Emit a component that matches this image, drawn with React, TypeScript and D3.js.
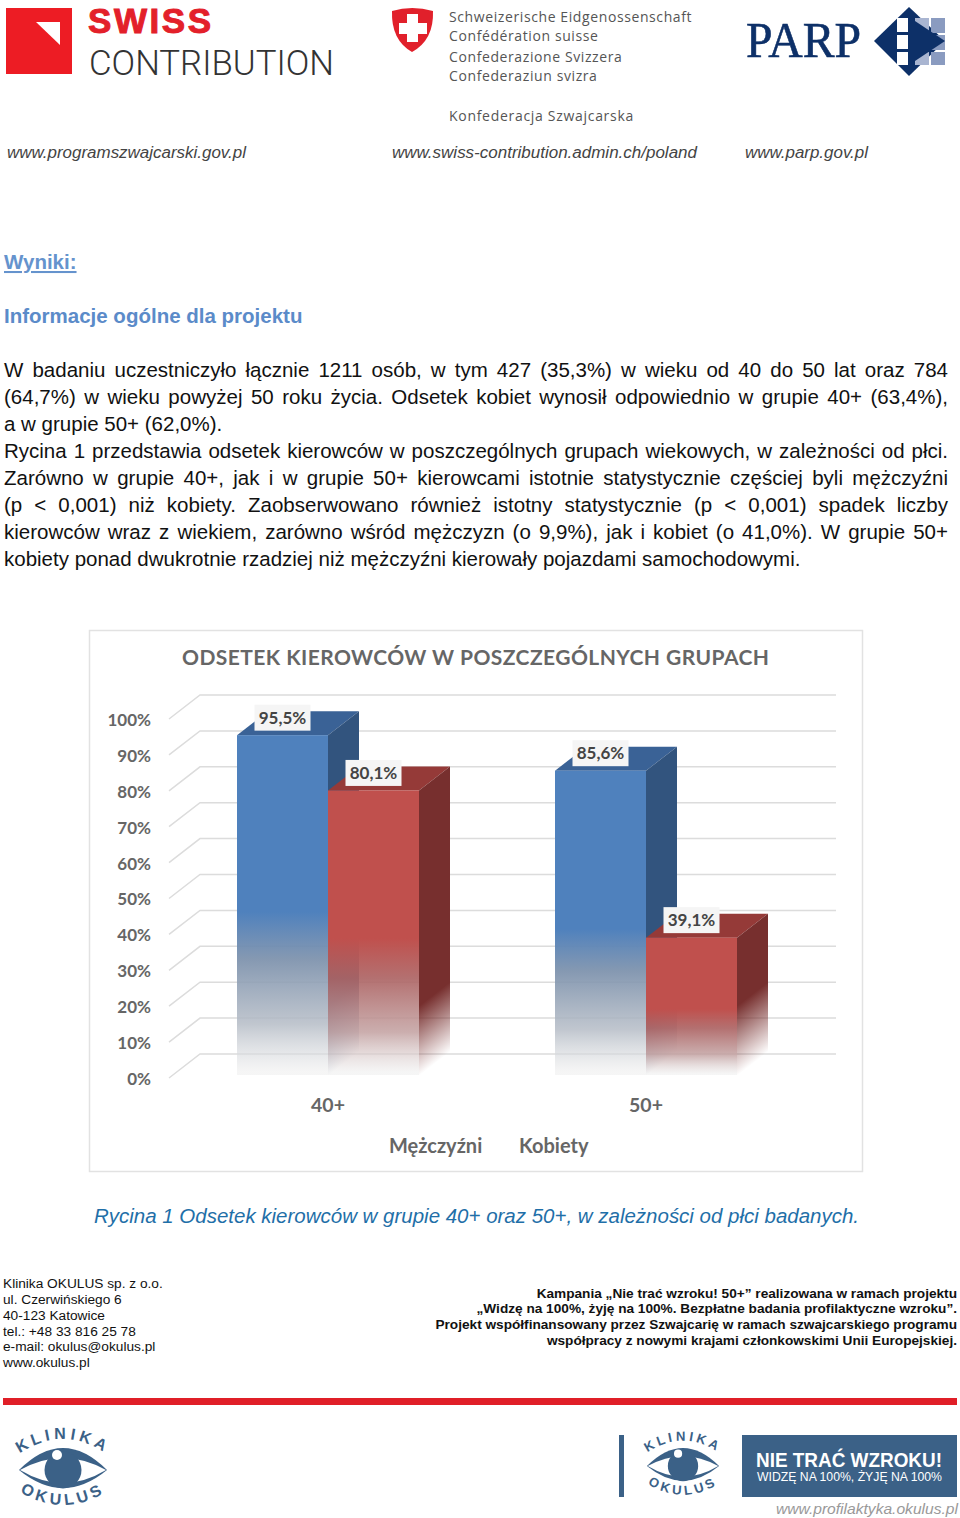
import { useEffect, useRef } from 'react';
import * as d3 from 'd3';

const categories = ['40+', '50+'];
const seriesNames = ['Mężczyźni', 'Kobiety'];
const men = [95.5, 85.6];
const women = [80.1, 39.1];
const yTicks = [0, 10, 20, 30, 40, 50, 60, 70, 80, 90, 100];

const bodyLines = [
  { text: 'W badaniu uczestniczyło łącznie 1211 osób, w tym 427 (35,3%) w wieku od 40 do 50 lat oraz 784', justify: true },
  { text: '(64,7%) w wieku powyżej 50 roku życia. Odsetek kobiet wynosił odpowiednio w grupie 40+ (63,4%),', justify: true },
  { text: 'a w grupie 50+ (62,0%).', justify: false },
  { text: 'Rycina 1 przedstawia odsetek kierowców w poszczególnych grupach wiekowych, w zależności od płci.', justify: true },
  { text: 'Zarówno w grupie 40+, jak i w grupie 50+ kierowcami istotnie statystycznie częściej byli mężczyźni', justify: true },
  { text: '(p < 0,001) niż kobiety. Zaobserwowano również istotny statystycznie (p < 0,001) spadek liczby', justify: true },
  { text: 'kierowców wraz z wiekiem, zarówno wśród mężczyzn (o 9,9%), jak i kobiet (o 41,0%). W grupie 50+', justify: true },
  { text: 'kobiety ponad dwukrotnie rzadziej niż mężczyźni kierowały pojazdami samochodowymi.', justify: false },
];
const addressLines = ['Klinika OKULUS sp. z o.o.', 'ul. Czerwińskiego 6', '40-123 Katowice', 'tel.: +48 33 816 25 78', 'e-mail: okulus@okulus.pl', 'www.okulus.pl'];
const campaignLines = [
  'Kampania „Nie trać wzroku! 50+” realizowana w ramach projektu',
  '„Widzę na 100%, żyję na 100%. Bezpłatne badania profilaktyczne wzroku”.',
  'Projekt współfinansowany przez Szwajcarię w ramach szwajcarskiego programu',
  'współpracy z nowymi krajami członkowskimi Unii Europejskiej.',
];
const swissLines = ['Schweizerische Eidgenossenschaft', 'Confédération suisse', 'Confederazione Svizzera', 'Confederaziun svizra'];

const SANS = '"Liberation Sans", Arial, sans-serif';
const CHART_FONT = 'Lato, "Open Sans", sans-serif';
const NAVY = '#3b6187';

type Sel = d3.Selection<SVGGElement, unknown, null, undefined>;

function label(g: Sel, x: number, y: number, str: string, size: number, fill: string, opts: Record<string, string | number> = {}) {
  const t = g.append('text').attr('x', x).attr('y', y).attr('font-family', SANS).attr('font-size', size).attr('fill', fill).text(str);
  Object.entries(opts).forEach(([k, v]) => t.attr(k, v));
  return t;
}

function drawEye(g: Sel, defs: d3.Selection<SVGDefsElement, unknown, null, undefined>, id: string, cx: number, cy: number, k: number) {
  const e = g.append('g').attr('transform', `translate(${cx},${cy}) scale(${k})`);
  e.append('path').attr('d', 'M-44,0 Q0,-44 44,0 Q0,36 -44,0Z').attr('fill', NAVY);
  e.append('path').attr('d', 'M-43,0 Q0,-24 43,0 Q0,26 -43,0Z').attr('fill', '#fff');
  e.append('circle').attr('r', 18.5).attr('fill', NAVY);
  e.append('circle').attr('cx', -6).attr('cy', -15).attr('r', 5).attr('fill', '#fff');
  defs.append('path').attr('id', `${id}-top`).attr('d', 'M-52,-10 Q0,-52 52,-10');
  defs.append('path').attr('id', `${id}-bot`).attr('d', 'M-52,16 Q0,54 52,16');
  const arcText = (href: string, str: string) =>
    e.append('text').attr('font-family', SANS).attr('font-weight', 700).attr('font-size', 16).attr('fill', NAVY).attr('text-anchor', 'middle')
      .append('textPath').attr('href', `#${href}`).attr('startOffset', '50%').attr('letter-spacing', 4).text(str);
  arcText(`${id}-top`, 'KLINIKA');
  arcText(`${id}-bot`, 'OKULUS');
}

export default function App() {
  const ref = useRef<SVGSVGElement | null>(null);

  useEffect(() => {
    if (!ref.current) return;
    const svg = d3.select(ref.current);
    svg.selectAll('*').remove();
    const defs = svg.append('defs');
    const root = svg.append('g') as unknown as Sel;

    // header logos
    const head = root.append('g') as Sel;
    head.append('rect').attr('x', 6).attr('y', 8).attr('width', 66).attr('height', 66).attr('fill', '#ed1c24');
    head.append('path').attr('d', 'M36,22 L60,22 L60,45Z').attr('fill', '#fff');
    label(head, 88, 33, 'SWISS', 35, '#e3202a', { 'font-weight': 700, stroke: '#e3202a', 'stroke-width': 1, textLength: 123, lengthAdjust: 'spacing' });
    label(head, 89, 75, 'CONTRIBUTION', 35, '#333', { 'font-family': 'Roboto, sans-serif', 'font-weight': 300, textLength: 245, lengthAdjust: 'spacingAndGlyphs' });
    head.append('path').attr('d', 'M392,11 Q412,5 433,11 Q434,40 412,52 Q391,40 392,11Z').attr('fill', '#e1202b');
    head.append('path').attr('d', 'M407,14 H418 V23 H427 V34 H418 V42 H407 V34 H399 V23 H407Z').attr('fill', '#fff');
    swissLines.forEach((l, i) => {
      label(head, 449, [22, 41, 62, 81][i], l, 14, '#555', { 'font-family': '"Open Sans", sans-serif', 'letter-spacing': 0.6 });
    });
    label(head, 449, 121, 'Konfederacja Szwajcarska', 14, '#555', { 'font-family': '"Open Sans", sans-serif', 'letter-spacing': 0.7 });
    label(head, 746, 57, 'PARP', 50, '#0d3068', { 'font-family': '"Liberation Serif", serif', stroke: '#0d3068', 'stroke-width': 0.6, textLength: 115, lengthAdjust: 'spacingAndGlyphs' });
    head.append('path').attr('d', 'M909,7 L945,41 L909,76 L874,41Z').attr('fill', '#0d3068');
    [18, 35, 52].forEach((y) => {
      head.append('rect').attr('x', 915).attr('y', y).attr('width', 14).attr('height', y === 52 ? 13 : 15).attr('fill', '#a9b5d1');
      head.append('rect').attr('x', 931).attr('y', y).attr('width', 14).attr('height', y === 52 ? 13 : 15).attr('fill', '#8a9bc0');
      head.append('rect').attr('x', 897).attr('y', y).attr('width', 11).attr('height', y === 52 ? 13 : 14).attr('fill', '#fff');
    });
    head.append('path').attr('d', 'M915,21 L945,41 L915,61Z').attr('fill', '#0d3068');
    [['www.programszwajcarski.gov.pl', 7, 239], ['www.swiss-contribution.admin.ch/poland', 392, 305], ['www.parp.gov.pl', 745, 123]].forEach(([t, x, w]) => {
      label(head, x as number, 158, t as string, 16, '#444', { 'font-style': 'italic', textLength: w as number, lengthAdjust: 'spacingAndGlyphs' });
    });

    // text above the chart
    label(root, 4, 269, 'Wyniki:', 20.5, '#6593cd', { 'font-weight': 700, 'text-decoration': 'underline' });
    label(root, 4, 323, 'Informacje ogólne dla projektu', 20.5, '#5b8bc9', { 'font-weight': 700 });
    bodyLines.forEach((l, i) => {
      const t = label(root, 4, 377 + i * 27, l.text, 20.5, '#111');
      if (l.justify) {
        const len = (t.node() as SVGTextElement).getComputedTextLength();
        const gaps = l.text.split(' ').length - 1;
        t.attr('word-spacing', (944 - len) / gaps);
      }
    });

    // chart
    const chart = root.append('g') as Sel;
    chart.append('rect').attr('x', 89.5).attr('y', 630.5).attr('width', 773).attr('height', 541).attr('fill', '#fff').attr('stroke', '#e2e2e2').attr('stroke-width', 1.5);
    chart.append('text').attr('x', 182).attr('y', 665).attr('font-family', CHART_FONT).attr('font-weight', 700).attr('font-size', 21)
      .attr('fill', '#666').attr('textLength', 587).attr('lengthAdjust', 'spacing').text('ODSETEK KIEROWCÓW W POSZCZEGÓLNYCH GRUPACH');

    const depth = { dx: 31, dy: -24 };
    const y = d3.scaleLinear().domain([0, 100]).range([1078, 719]);
    const x = d3.scaleBand<string>().domain(categories).range([169, 805]);
    const barW = 91;
    const xSeries = d3.scaleBand<string>().domain(seriesNames).range([x.bandwidth() / 2 - barW, x.bandwidth() / 2 + barW]);

    yTicks.forEach((t) => {
      const path = d3.path();
      path.moveTo(x.range()[0], y(t));
      path.lineTo(x.range()[0] + depth.dx, y(t) + depth.dy);
      path.lineTo(836, y(t) + depth.dy);
      chart.append('path').attr('d', path.toString()).attr('fill', 'none').attr('stroke', '#dcdcdc').attr('stroke-width', 1.5);
    });

    const styleAxis = (g: d3.Selection<SVGGElement, unknown, null, undefined>, size: number) => {
      g.select('.domain').remove();
      g.selectAll('text').attr('font-family', CHART_FONT).attr('font-weight', 700).attr('font-size', size).attr('fill', '#666');
    };
    const axisY = chart.append('g').attr('transform', 'translate(169,1)')
      .call(d3.axisLeft(y).tickValues(yTicks).tickFormat((d) => `${d}%`).tickSize(0).tickPadding(18));
    styleAxis(axisY, 17);
    const axisX = chart.append('g').attr('transform', 'translate(0,1078)')
      .call(d3.axisBottom(x).tickSize(0).tickPadding(20));
    styleAxis(axisX, 19.5);

    const palette = [
      { name: seriesNames[0], values: men, front: '#4f81bd', fade1: '#7b90ab', fade2: '#b5bcc6', top: '#3a6296', side: '#32547e' },
      { name: seriesNames[1], values: women, front: '#c0504d', fade1: '#ad6464', fade2: '#c2a0a0', top: '#953a38', side: '#772f2e' },
    ];
    const sideFade = 72;

    categories.forEach((cat, ci) => {
      palette.forEach((s, si) => {
        const v = s.values[ci];
        const x0 = (x(cat) as number) + (xSeries(s.name) as number);
        const x1 = x0 + barW;
        const yTop = y(v);
        const yBase = y(0);
        const id = `bar-${ci}-${si}`;

        const fg = defs.append('linearGradient').attr('id', `${id}-front`).attr('x1', 0).attr('y1', 0).attr('x2', 0).attr('y2', 1);
        fg.append('stop').attr('offset', 0.52).attr('stop-color', s.front);
        fg.append('stop').attr('offset', 0.66).attr('stop-color', s.fade1).attr('stop-opacity', 0.92);
        fg.append('stop').attr('offset', 0.85).attr('stop-color', s.fade2).attr('stop-opacity', 0.85);
        fg.append('stop').attr('offset', 0.99).attr('stop-color', '#ececec').attr('stop-opacity', 0.5);

        const len = Math.hypot(depth.dx, depth.dy);
        const nx = -depth.dy / len;
        const ny = depth.dx / len;
        const proj = sideFade * ny;
        const sg = defs.append('linearGradient').attr('id', `${id}-side`).attr('gradientUnits', 'userSpaceOnUse')
          .attr('x1', x1).attr('y1', yBase - sideFade).attr('x2', x1 + nx * proj).attr('y2', yBase - sideFade + ny * proj);
        sg.append('stop').attr('offset', 0).attr('stop-color', s.side);
        sg.append('stop').attr('offset', 0.97).attr('stop-color', s.side).attr('stop-opacity', 0);

        const topFace = d3.path();
        topFace.moveTo(x0, yTop);
        topFace.lineTo(x0 + depth.dx, yTop + depth.dy);
        topFace.lineTo(x1 + depth.dx, yTop + depth.dy);
        topFace.lineTo(x1, yTop);
        topFace.closePath();
        chart.append('path').attr('d', topFace.toString()).attr('fill', s.top);

        const sideFace = d3.path();
        sideFace.moveTo(x1, yTop);
        sideFace.lineTo(x1 + depth.dx, yTop + depth.dy);
        sideFace.lineTo(x1 + depth.dx, yBase + depth.dy);
        sideFace.lineTo(x1, yBase);
        sideFace.closePath();
        chart.append('path').attr('d', sideFace.toString()).attr('fill', `url(#${id}-side)`);

        chart.append('rect').attr('x', x0).attr('y', yTop).attr('width', barW).attr('height', yBase - 3 - yTop).attr('fill', `url(#${id}-front)`);
      });
    });

    // data labels go above every bar
    categories.forEach((cat, ci) => {
      palette.forEach((s) => {
        const v = s.values[ci];
        const cx = (x(cat) as number) + (xSeries(s.name) as number) + barW / 2;
        const cy = y(v) - 17.5;
        chart.append('rect').attr('x', cx - 28).attr('y', cy - 13).attr('width', 56).attr('height', 26).attr('fill', '#f5f5f5');
        chart.append('text').attr('x', cx).attr('y', cy + 6).attr('text-anchor', 'middle').attr('font-family', CHART_FONT).attr('font-weight', 700)
          .attr('font-size', 17).attr('fill', '#444').text(`${v.toFixed(1).replace('.', ',')}%`);
      });
    });

    // legend has no swatches in the original
    [[389, seriesNames[0]], [519, seriesNames[1]]].forEach(([lx, name]) => {
      chart.append('text').attr('x', lx).attr('y', 1153).attr('font-family', CHART_FONT).attr('font-weight', 700).attr('font-size', 20).attr('fill', '#666').text(name as string);
    });

    label(root, 94, 1223, 'Rycina 1 Odsetek kierowców w grupie 40+ oraz 50+, w zależności od płci badanych.', 20, '#1f6fa8', { 'font-style': 'italic', textLength: 765, lengthAdjust: 'spacingAndGlyphs' });

    // footer
    addressLines.forEach((l, i) => label(root, 3, [1288, 1304, 1320, 1336, 1351, 1367][i], l, 13.7, '#111'));
    campaignLines.forEach((l, i) => label(root, 957, [1298, 1313, 1329, 1345][i], l, 13.65, '#111', { 'font-weight': 700, 'text-anchor': 'end' }));
    root.append('rect').attr('x', 3).attr('y', 1398).attr('width', 954).attr('height', 7).attr('fill', '#e01f28');

    drawEye(root as Sel, defs, 'eye-a', 63, 1470, 1);
    root.append('rect').attr('x', 619).attr('y', 1435).attr('width', 5).attr('height', 62).attr('fill', NAVY);
    drawEye(root as Sel, defs, 'eye-b', 683, 1466, 0.82);
    root.append('rect').attr('x', 742).attr('y', 1435).attr('width', 215).attr('height', 62).attr('fill', NAVY);
    label(root, 756, 1467, 'NIE TRAĆ WZROKU!', 20.5, '#fff', { 'font-weight': 700, textLength: 186, lengthAdjust: 'spacingAndGlyphs' });
    label(root, 757, 1481, 'WIDZĘ NA 100%,  ŻYJĘ NA 100%', 12.5, '#fff', { textLength: 185, lengthAdjust: 'spacingAndGlyphs' });
    label(root, 776, 1514, 'www.profilaktyka.okulus.pl', 15.5, '#999', { 'font-style': 'italic', textLength: 182, lengthAdjust: 'spacingAndGlyphs' });
  }, []);

  return <svg ref={ref} width={960} height={1518} style={{ position: 'absolute', left: 0, top: 0, background: '#fff' }} />;
}
